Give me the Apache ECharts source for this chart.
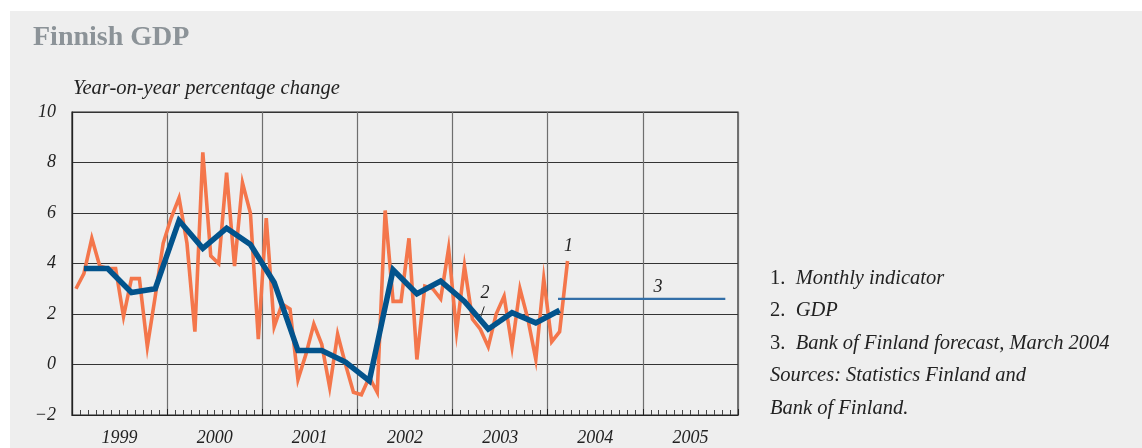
<!DOCTYPE html>
<html>
<head>
<meta charset="utf-8">
<script src="https://cdn.jsdelivr.net/npm/echarts@6/dist/echarts.min.js"></script>
<style>
  html, body { margin: 0; padding: 0; background: #ffffff; }
  #chart { width: 1142px; height: 448px; }
</style>
</head>
<body>
<div id="chart"></div>
<script>
// years on the x axis (one band = 12 months)
var years = ['1999', '2000', '2001', '2002', '2003', '2004', '2005'];
var yTicks = [-2, 0, 2, 4, 6, 8, 10];

// 1. monthly indicator, Jan 1999 .. Mar 2004
var monthly = [
  3.0, 3.6, 5.0, 3.9, 3.8, 3.8, 1.9, 3.4, 3.4, 0.7, 2.7, 4.8,
  5.8, 6.6, 4.8, 1.3, 8.4, 4.3, 4.0, 7.6, 3.9, 7.2, 6.0, 1.0,
  5.8, 1.5, 2.4, 2.2, -0.6, 0.4, 1.6, 0.8, -0.9, 1.2, 0.0, -1.1,
  -1.2, -0.5, -1.1, 6.1, 2.5, 2.5, 5.0, 0.2, 3.1, 3.0, 2.6, 4.6,
  1.3, 3.9, 1.8, 1.4, 0.7, 2.0, 2.7, 0.7, 3.0, 1.8, 0.2, 3.4,
  0.9, 1.3, 4.1
];

// 2. GDP, quarterly, Q1 1999 .. Q1 2004
var gdp = [
  3.8, 3.8, 2.85, 3.0, 5.7, 4.6, 5.4, 4.75, 3.25, 0.55, 0.55,
  0.1, -0.65, 3.75, 2.8, 3.3, 2.5, 1.4, 2.05, 1.65, 2.15
];

// 3. Bank of Finland forecast, March 2004 (flat level over months)
var forecastLevel = 2.6;
var forecastMonths = [61.3, 82.4];

var notes = [
  '{n|1.}  Monthly indicator',
  '{n|2.}  GDP',
  '{n|3.}  Bank of Finland forecast, March 2004',
  'Sources: Statistics Finland and',
  'Bank of Finland.'
];

var serif = '"Liberation Serif", "DejaVu Serif", serif';

var monthlyData = monthly.map(function (v, i) { return [i + 0.5, v]; });
var gdpData = gdp.map(function (v, q) { return [3 * q + 1.5, v]; });
var forecastData = forecastMonths.map(function (m) { return [m, forecastLevel]; });

var chart = echarts.init(document.getElementById('chart'));

var option = {
  animation: false,
  backgroundColor: '#ffffff',
  textStyle: { fontFamily: serif },
  graphic: [
    { id: 'bg', type: 'rect', shape: { x: 10, y: 11, width: 1132, height: 437 }, style: { fill: '#eeeeee' }, z: -10 },
    { id: 'title', type: 'text', left: 33, top: 24, style: { text: 'Finnish GDP', font: 'bold 28px ' + serif, fill: '#8c9398' } },
    { id: 'sub', type: 'text', left: 73, top: 79, style: { text: 'Year-on-year percentage change', font: 'italic 20.5px ' + serif, fill: '#222222' } },
    {
      id: 'notes', type: 'text', left: 770, top: 262,
      style: {
        text: notes.join('\n'),
        font: 'italic 20.5px ' + serif, fill: '#222222', lineHeight: 32.5,
        rich: { n: { fontStyle: 'normal', fontSize: 20.5, fontFamily: serif, fill: '#222222' } }
      }
    }
  ],
  grid: {
    left: 72, top: 112, width: 666, height: 303,
    show: true, borderColor: '#222222', borderWidth: 1.2, backgroundColor: 'transparent'
  },
  xAxis: [
    {
      type: 'value', min: 0, max: 84, interval: 12,
      axisLine: { show: true, onZero: false, lineStyle: { color: '#222222', width: 1.2 } },
      axisTick: { show: true, inside: true, length: 6, lineStyle: { color: '#222222' } },
      minorTick: { show: true, splitNumber: 12, length: 5, lineStyle: { color: '#444444' } },
      axisLabel: { show: false },
      splitLine: { show: true, lineStyle: { color: '#6e6e6e', width: 1.2 } }
    },
    {
      type: 'category', data: years, boundaryGap: true, position: 'bottom',
      axisLine: { show: false, onZero: false }, axisTick: { show: false }, splitLine: { show: false },
      axisLabel: { margin: 14, fontSize: 18, fontStyle: 'italic', fontFamily: serif, color: '#222222' }
    }
  ],
  yAxis: {
    type: 'value', min: -2, max: 10, interval: 2,
    axisLine: { show: true, onZero: false, lineStyle: { color: '#222222', width: 1.2 } },
    axisTick: { show: false },
    axisLabel: {
      margin: 16, fontSize: 18, fontStyle: 'italic', fontFamily: serif, color: '#222222',
      formatter: function (v) { return yTicks.indexOf(v) < 0 ? '' : String(v).replace('-', '\u2212'); }
    },
    splitLine: { show: true, lineStyle: { color: '#333333', width: 1.2 } }
  },
  series: [
    {
      name: 'Monthly indicator', type: 'line', data: monthlyData, xAxisIndex: 0,
      symbol: 'none', lineStyle: { color: '#f4764b', width: 3.6, join: 'miter' }, z: 3
    },
    {
      name: 'GDP', type: 'line', data: gdpData, xAxisIndex: 0,
      symbol: 'none', lineStyle: { color: '#02538c', width: 5.5, join: 'miter' }, z: 4
    },
    {
      name: 'Forecast', type: 'line', data: forecastData, xAxisIndex: 0,
      symbol: 'none', lineStyle: { color: '#336fa8', width: 2.4 }, z: 4
    }
  ]
};
chart.setOption(option);

// series labels 1, 2, 3 placed through the axes
function px(x, y) { return chart.convertToPixel({ xAxisIndex: 0, yAxisIndex: 0 }, [x, y]); }
var last = monthlyData[monthlyData.length - 1];
var p1 = px(last[0], last[1]);
var p2 = px(52.1, 2.45);
var l2a = px(52.0, 2.3);
var l2b = px(51.4, 1.75);
var p3 = px(73.9, forecastLevel);
var labelStyle = { font: 'italic 18px ' + serif, fill: '#222222', align: 'center', verticalAlign: 'bottom' };
chart.setOption({
  graphic: [
    { id: 'lab1', type: 'text', x: p1[0] + 1, y: p1[1] - 6, style: Object.assign({ text: '1' }, labelStyle) },
    { id: 'lab2', type: 'text', x: p2[0], y: p2[1], style: Object.assign({ text: '2' }, labelStyle) },
    { id: 'lead2', type: 'line', shape: { x1: l2a[0], y1: l2a[1], x2: l2b[0], y2: l2b[1] }, style: { stroke: '#222222', lineWidth: 1 } },
    { id: 'lab3', type: 'text', x: p3[0], y: p3[1] - 3, style: Object.assign({ text: '3' }, labelStyle) }
  ]
});
</script>
</body>
</html>
